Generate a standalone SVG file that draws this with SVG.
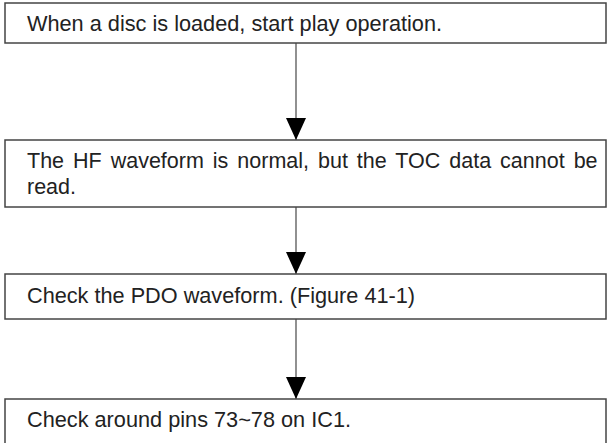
<svg xmlns="http://www.w3.org/2000/svg" width="608" height="443" viewBox="0 0 608 443">
<defs>
<style>
.box{fill:#fff;stroke:#444;stroke-width:1.5}
.t{font-family:"Liberation Sans",Arial,sans-serif;font-size:21.5px;fill:#222}
.c{stroke:#555;stroke-width:1.3;fill:none}
</style>
<marker id="ah" markerUnits="userSpaceOnUse" markerWidth="22" markerHeight="20" refX="22" refY="10" orient="auto">
<path d="M0,0 L22,10 L0,20 Z" fill="#000"/>
</marker>
</defs>
<g id="connectors">
<line class="c" x1="296" y1="43" x2="296" y2="140" marker-end="url(#ah)"/>
<line class="c" x1="296" y1="207" x2="296" y2="274" marker-end="url(#ah)"/>
<line class="c" x1="296" y1="319" x2="296" y2="399" marker-end="url(#ah)"/>
</g>
<g id="n1">
<rect class="box" x="5" y="3" width="601" height="40"/>
<text class="t" x="27" y="31" textLength="415" lengthAdjust="spacingAndGlyphs">When a disc is loaded, start play operation.</text>
</g>
<g id="n2">
<rect class="box" x="5" y="140" width="601" height="67"/>
<text class="t" x="27" y="168" style="word-spacing:3px">The HF waveform is normal, but the TOC data cannot be</text>
<text class="t" x="27" y="194">read.</text>
</g>
<g id="n3">
<rect class="box" x="5" y="274" width="601" height="45"/>
<text class="t" x="27" y="303" textLength="388" lengthAdjust="spacingAndGlyphs">Check the PDO waveform. (Figure 41-1)</text>
</g>
<g id="n4">
<rect class="box" x="5" y="399" width="601" height="60"/>
<text class="t" x="27" y="427" textLength="324" lengthAdjust="spacingAndGlyphs">Check around pins 73~78 on IC1.</text>
</g>
</svg>
